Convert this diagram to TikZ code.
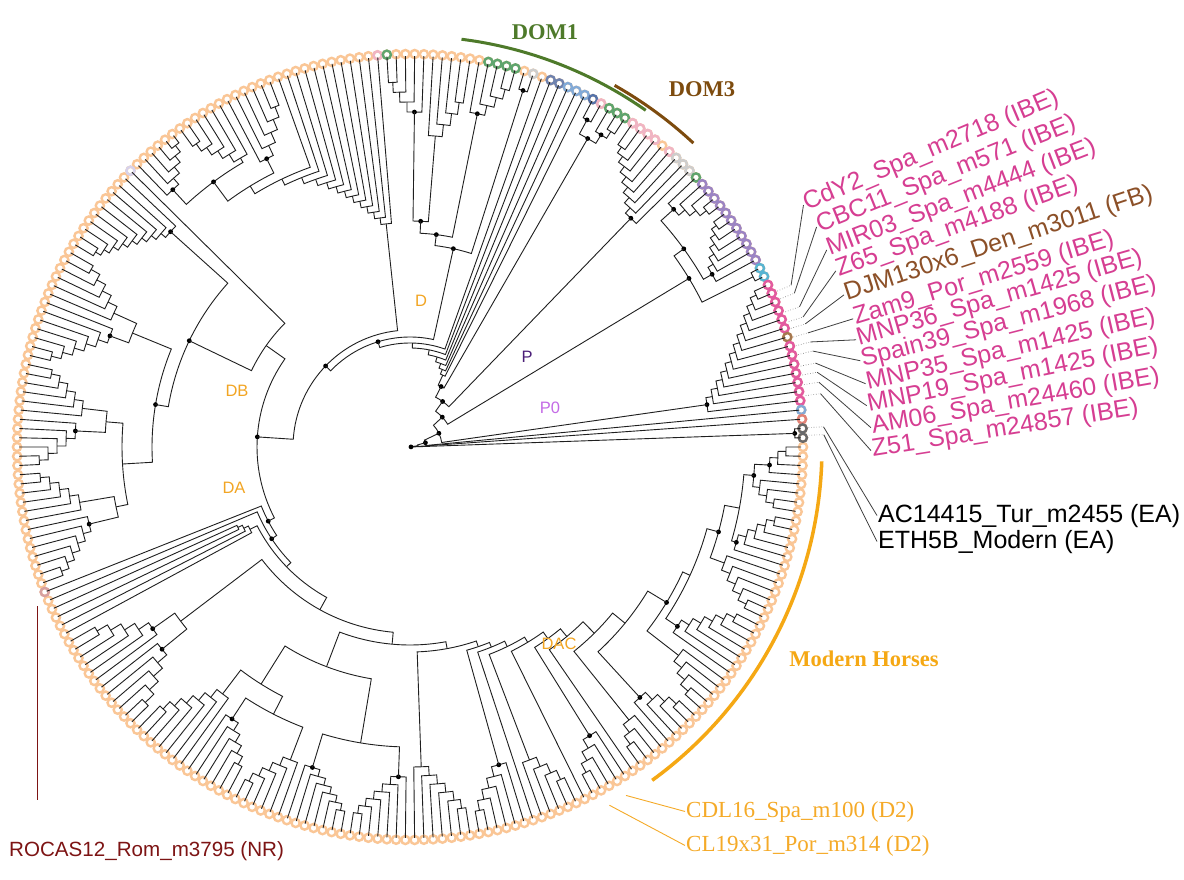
\documentclass[tikz,border=0pt]{standalone}
\usepackage{fontspec}
\newfontfamily\lsans{Liberation Sans}
\newfontfamily\lserif{Liberation Serif}
\definecolor{tor}{RGB}{250,198,150}
\definecolor{tgreen}{RGB}{95,165,110}
\definecolor{tpurple}{RGB}{155,132,196}
\definecolor{tpink}{RGB}{226,90,160}
\definecolor{tlpink}{RGB}{240,180,196}
\definecolor{tcyan}{RGB}{88,180,210}
\definecolor{tsteel}{RGB}{110,130,175}
\definecolor{tlblue}{RGB}{130,170,215}
\definecolor{tblue}{RGB}{85,115,170}
\definecolor{tred}{RGB}{225,130,120}
\definecolor{tdgrey}{RGB}{105,105,105}
\definecolor{tlgrey}{RGB}{205,205,205}
\definecolor{trosy}{RGB}{215,160,160}
\definecolor{tbrown}{RGB}{165,120,80}
\definecolor{tlav}{RGB}{215,210,235}
\definecolor{ibe}{RGB}{214,62,146}
\definecolor{fb}{RGB}{140,80,40}
\definecolor{nr}{RGB}{125,20,20}
\definecolor{dtwo}{RGB}{245,170,40}
\definecolor{domone}{RGB}{78,122,42}
\definecolor{domthree}{RGB}{125,75,14}
\definecolor{modern}{RGB}{245,168,20}
\definecolor{clab}{RGB}{242,165,35}
\definecolor{plab}{RGB}{75,30,120}
\definecolor{pzlab}{RGB}{196,107,230}
\def\dphi{1.3534}
\def\RT{391}
\newcount\ck
\newcommand\leaf[2]{\pgfmathsetmacro\tmpang{#2*\dphi}%
  \expandafter\xdef\csname A@#1\endcsname{\tmpang}%
  \expandafter\xdef\csname R@#1\endcsname{\RT}}
\newcommand\jn[4]{%
  \edef\tAa{\csname A@#2\endcsname}%
  \edef\tAb{\csname A@#3\endcsname}%
  \edef\tRa{\csname R@#2\endcsname}%
  \edef\tRb{\csname R@#3\endcsname}%
  \draw[br] (\tAa:\tRa) -- (\tAa:#4) arc[start angle=\tAa, end angle=\tAb, radius=#4] -- (\tAb:\tRb);%
  \pgfmathsetmacro\tmpang{(\tAa+\tAb)/2}%
  \expandafter\xdef\csname A@#1\endcsname{\tmpang}%
  \expandafter\xdef\csname R@#1\endcsname{#4}}
\newcommand\dotat[1]{\fill[dotc] (\csname A@#1\endcsname:\csname R@#1\endcsname) circle[radius=2.4pt];}
% caterpillar, innermost node holds the lowest index leaf
\newcommand\cat[5]{%
  \pgfmathtruncatemacro\cA{#2+#3-1}%
  \pgfmathtruncatemacro\cB{#2+#3-2}%
  \leaf{#1@x}{\cA}\leaf{#1@y}{\cB}%
  \pgfmathsetmacro\catR{#4+(#3-2)*#5}%
  \jn{#1}{#1@y}{#1@x}{\catR}%
  \ck=\cB\relax
  \loop\ifnum\ck>#2\relax
    \advance\ck by -1\relax
    \leaf{#1@x}{\the\ck}%
    \pgfmathsetmacro\catR{#4+(\the\ck-#2)*#5}%
    \jn{#1}{#1@x}{#1}{\catR}%
  \repeat}
% caterpillar, innermost node holds the highest index leaf
\newcommand\catr[5]{%
  \pgfmathtruncatemacro\cA{#2}%
  \pgfmathtruncatemacro\cB{#2+1}%
  \pgfmathtruncatemacro\cE{#2+#3-1}%
  \leaf{#1@x}{\cA}\leaf{#1@y}{\cB}%
  \pgfmathsetmacro\catR{#4+(#3-2)*#5}%
  \jn{#1}{#1@x}{#1@y}{\catR}%
  \ck=\cB\relax
  \loop\ifnum\ck<\cE\relax
    \advance\ck by 1\relax
    \leaf{#1@x}{\the\ck}%
    \pgfmathsetmacro\catR{#4+(\cE-\the\ck)*#5}%
    \jn{#1}{#1}{#1@x}{\catR}%
  \repeat}
% add leaves i1..i2 to clade, radius decreasing
\newcommand\chainup[5]{%
  \ck=#2\relax\advance\ck by -1\relax
  \loop\ifnum\ck<#3\relax
    \advance\ck by 1\relax
    \leaf{#1@x}{\the\ck}%
    \pgfmathsetmacro\catR{#4-(\the\ck-#2)*#5}%
    \jn{#1}{#1}{#1@x}{\catR}%
  \repeat}
\begin{document}
\begin{tikzpicture}[x=1pt,y=-1pt,
  br/.style={draw=black!88, line width=0.9pt},
  dotc/.style={fill=black},
  ring/.style={draw=tor, line width=2.4pt},
  lead/.style={draw=black!75, line width=0.8pt},
  tipdot/.style={draw=black!55, line width=0.6pt, dotted},
  ibelab/.style={inner sep=1pt, text=ibe, font=\lsans\fontsize{25}{27}\selectfont},
  ealab/.style={inner sep=1pt, text=black, font=\lsans\fontsize{25}{27}\selectfont},
  dlab/.style={inner sep=1pt, text=dtwo, font=\lserif\fontsize{23}{25}\selectfont},
  small/.style={inner sep=0pt, font=\lsans\fontsize{16.5}{18}\selectfont},
  big/.style={inner sep=0pt, font=\lserif\bfseries\fontsize{22.5}{24}\selectfont}]
\useasboundingbox (0,0) rectangle (1184,880);
\fill[white] (0,0) rectangle (1184,880);
\begin{scope}[shift={(410,447)}]
% tip rings
\foreach \i in {0,...,265}{\pgfmathsetmacro\ta{\i*\dphi}\draw[ring] (\ta:393) circle[radius=4.1];}
\foreach \i/\c in {117/trosy,166/tlav,196/tlpink,197/tgreen,208/tgreen,209/tgreen,210/tgreen,211/tgreen,
  213/tlgrey,215/tsteel,216/tsteel,217/tlblue,218/tlblue,219/tlblue,220/tblue,221/tlpink,222/tgreen,223/tgreen,224/tgreen,
  225/tlpink,226/tlpink,227/tlpink,228/tlpink,230/tlpink,231/tlgrey,232/tlgrey,233/tlgrey,234/tgreen,
  235/tpurple,236/tpurple,237/tpurple,238/tpurple,239/tpurple,240/tpurple,241/tpurple,242/tpurple,243/tpurple,244/tpurple,245/tpurple,
  246/tcyan,247/tcyan,248/tpink,249/tpink,250/tpink,251/tpink,252/tpink,253/tpink,254/tbrown,255/tpink,256/tpink,257/tpink,
  258/tpink,259/tpink,260/tpink,261/tpink,262/tlblue,263/tred,264/tdgrey,265/tdgrey}
  {\pgfmathsetmacro\ta{\i*\dphi}\draw[ring,draw=\c] (\ta:393) circle[radius=4.1];}
% ---- DAC ----
\catr{a1}{0}{4}{360}{8}\dotat{a1}
\cat{a2}{4}{4}{352}{8}
\jn{a12}{a1}{a2}{345}\dotat{a12}
\catr{a3}{8}{6}{340}{8}\dotat{a3}
\jn{a13}{a12}{a3}{335}
\cat{a4}{14}{6}{335}{9}
\jn{a14}{a13}{a4}{320}\dotat{a14}
\catr{a5}{20}{7}{322}{9}\dotat{a5}
\jn{a15}{a14}{a5}{308}
\cat{a6}{27}{5}{340}{10}
\jn{a16}{a15}{a6}{300}\dotat{a16}
\catr{a7}{32}{5}{340}{10}\dotat{a7}
\jn{a17}{a16}{a7}{278}
\cat{a8}{37}{4}{350}{10}
\jn{a18}{a17}{a8}{262}
\leaf{l41}{41}\jn{a19}{a18}{l41}{246}
\cat{a9}{42}{5}{340}{10}\dotat{a9}
\jn{a20}{a19}{a9}{236}
\leaf{l47}{47}\jn{a21}{a20}{l47}{228}
\catr{a10}{48}{5}{335}{10}
\jn{a22}{a21}{a10}{222}
\leaf{l53}{53}\jn{a23}{a22}{l53}{216}
\cat{a11}{54}{6}{330}{10}\dotat{a11}
\jn{a24}{a23}{a11}{211}
\catr{a25}{60}{7}{320}{9}
\jn{dac}{a24}{a25}{205}
% ---- bottom left ----
\cat{b1}{67}{7}{330}{8}\dotat{b1}
\catr{b2}{74}{7}{335}{7}\dotat{b2}
\jn{b12}{b1}{b2}{300}
\cat{b3}{81}{6}{335}{9}
\catr{b4}{87}{6}{325}{9}\dotat{b4}
\jn{b34}{b3}{b4}{300}
\cat{b5}{93}{7}{310}{10}
\jn{b35}{b34}{b5}{280}
\jn{bcl}{b12}{b35}{235}
\jn{da2}{bcl}{dac}{198}
% ---- DA ----
\catr{c1}{100}{6}{320}{12}\dotat{c1}
\cat{c2}{106}{6}{315}{12}\dotat{c2}
\jn{c12}{c1}{c2}{288}
\jn{t1}{da2}{c12}{186}
\cat{c3}{112}{4}{180}{5}
\jn{t2}{t1}{c3}{172}
\leaf{l116}{116}\jn{t3}{t2}{l116}{166}\dotat{t3}
\leaf{l117}{117}\jn{da}{t3}{l117}{160}\dotat{da}
% ---- DB ----
\catr{e1}{118}{7}{330}{8}\dotat{e1}
\cat{e2}{125}{6}{335}{9}
\jn{e12}{e1}{e2}{300}
\catr{e3}{131}{6}{335}{9}\dotat{e3}
\cat{e4}{137}{6}{330}{9}
\jn{e34}{e3}{e4}{305}
\jn{e14}{e12}{e34}{288}
\catr{e5}{143}{7}{320}{10}\dotat{e5}
\cat{e6}{150}{6}{325}{10}
\jn{e56}{e5}{e6}{300}
\jn{ea}{e14}{e56}{258}\dotat{ea}
\catr{e7}{156}{10}{322}{6}\dotat{e7}
\jn{e7b}{ea}{e7}{245}\dotat{e7b}
\leaf{l166}{166}\jn{db}{e7b}{l166}{176}
\jn{q}{db}{da}{153}\dotat{q}
% ---- top left ----
\cat{t1a}{167}{6}{350}{8}\dotat{t1a}
\catr{t2a}{173}{6}{335}{9}
\jn{u1}{t1a}{t2a}{330}\dotat{u1}
\cat{t3a}{179}{6}{322}{11}\dotat{t3a}
\jn{u2}{u1}{t3a}{306}
\chainup{u2}{185}{196}{297}{6.6}
\jn{d0}{q}{u2}{117}\dotat{d0}
% ---- D top ----
\catr{g1}{197}{5}{335}{10}\dotat{g1}
\cat{g2}{202}{5}{312}{12}
\jn{g12}{g1}{g2}{226}\dotat{g12}
\cat{g3}{207}{5}{340}{10}\dotat{g3}
\jn{g13}{g12}{g3}{214}\dotat{g13}
\cat{g4}{212}{2}{374}{0}\dotat{g4}
\jn{dtop}{g13}{g4}{203}\dotat{dtop}
% ---- backbone ----
\jn{bb}{d0}{dtop}{110}\dotat{bb}
\chainup{bb}{214}{219}{104}{5}
\cat{h1}{220}{2}{372}{0}\dotat{h1}
\cat{h2}{222}{3}{366}{8}\dotat{h2}
\jn{dom1}{h1}{h2}{356}\dotat{dom1}
\jn{bb}{bb}{dom1}{68}\dotat{bb}
\catr{dom3}{225}{9}{318}{7}\dotat{dom3}
\jn{bb}{bb}{dom3}{56}\dotat{bb}
\cat{p1}{234}{5}{355}{8}\dotat{p1}
\catr{p2}{239}{7}{348}{6}\dotat{p2}
\jn{p12}{p1}{p2}{338}\dotat{p12}
\cat{p3}{246}{2}{383}{0}
\jn{pc}{p12}{p3}{326}\dotat{pc}
\jn{bb}{bb}{pc}{44}\dotat{bb}
\catr{pink}{248}{14}{300}{6.5}\dotat{pink}
\jn{bb}{bb}{pink}{32}\dotat{bb}
\leaf{l262}{262}\jn{bb}{bb}{l262}{16}\dotat{bb}
\leaf{l263}{263}\jn{bb}{bb}{l263}{8}
\cat{eacl}{264}{2}{385}{0}\dotat{eacl}
\jn{root}{bb}{eacl}{1}\dotat{root}
% ---- clade arcs ----
\draw[domone, line width=3pt] (277.2:411) arc[start angle=277.2, end angle=305, radius=411];
\draw[domthree, line width=3pt] (299.5:415.5) arc[start angle=299.5, end angle=313, radius=415.5];
\draw[modern, line width=3.5pt] (2:412) arc[start angle=2, end angle=54, radius=412];
% ---- elbows of the leaders ----
\foreach \k/\a in {1/337.0,2/338.2,3/340.2,4/341.7,5/342.7,6/344.0,7/345.3,8/346.6,9/348.3,10/349.6,11/351.0,12/352.6,13/357.2,14/358.3}
  {\coordinate (e\k) at (\a:414); \coordinate (s\k) at (\a:399);}
\coordinate (dA) at (58.2:410);
\coordinate (dB) at (60.9:410);
\end{scope}
% ---- labels ----
\node[ibelab, rotate=23, anchor=base west] (L1) at (806,211) {CdY2\_Spa\_m2718 (IBE)};
\node[ibelab, rotate=22, anchor=base west] (L2) at (819,233) {CBC11\_Spa\_m571 (IBE)};
\node[ibelab, rotate=21, anchor=base west] (L3) at (829,256) {MIR03\_Spa\_m4444 (IBE)};
\node[ibelab, rotate=19.8, anchor=base west] (L4) at (838,277) {Z65\_Spa\_m4188 (IBE)};
\node[ibelab, text=fb, rotate=18.2, anchor=base west] (L5) at (846,301) {DJM130x6\_Den\_m3011 (FB)};
\node[ibelab, rotate=17, anchor=base west] (L6) at (855,325) {Zam9\_Por\_m2559 (IBE)};
\node[ibelab, rotate=16, anchor=base west] (L7) at (858,346) {MNP36\_Spa\_m1425 (IBE)};
\node[ibelab, rotate=14.5, anchor=base west] (L8) at (862,367) {Spain39\_Spa\_m1968 (IBE)};
\node[ibelab, rotate=13, anchor=base west] (L9) at (867,390) {MNP35\_Spa\_m1425 (IBE)};
\node[ibelab, rotate=11.5, anchor=base west] (L10) at (868,412) {MNP19\_Spa\_m1425 (IBE)};
\node[ibelab, rotate=10, anchor=base west] (L11) at (872,434) {AM06\_Spa\_m24460 (IBE)};
\node[ibelab, rotate=9, anchor=base west] (L12) at (872,457) {Z51\_Spa\_m24857 (IBE)};
\node[ealab, anchor=base west] (L13) at (877,522) {AC14415\_Tur\_m2455 (EA)};
\node[ealab, anchor=base west] (L14) at (877,548) {ETH5B\_Modern (EA)};
\node[inner sep=1pt, text=nr, font=\lsans\fontsize{20.6}{22}\selectfont, anchor=base west] (L15) at (8,856) {ROCAS12\_Rom\_m3795 (NR)};
\node[dlab, anchor=base west] (L16) at (685,817) {CDL16\_Spa\_m100 (D2)};
\node[dlab, anchor=base west] (L17) at (685,851) {CL19x31\_Por\_m314 (D2)};
\node[big, text=domone] (Ldom1) at (545,32) {DOM1};
\node[big, text=domthree] (Ldom3) at (702,89) {DOM3};
\node[big, text=modern] (Lmod) at (864,659) {Modern Horses};
\node[small, text=clab] (LD) at (421,301) {D};
\node[small, text=clab] (LDB) at (237,391) {DB};
\node[small, text=clab] (LDA) at (234,488) {DA};
\node[small, text=clab] (LDAC) at (559,644) {DAC};
\node[small, text=plab] (LP) at (527,357) {P};
\node[small, text=pzlab] (LP0) at (550,408) {P0};
% ---- leaders ----
\foreach \k in {1,...,14}{\draw[tipdot] (s\k) -- (e\k); \draw[lead] (e\k) -- (L\k.west);}
\coordinate (rocA) at (37,606);
\coordinate (rocB) at (37,800);
\draw[nr, line width=0.9pt] (rocA) -- (rocB);
\draw[dtwo, line width=0.9pt] (dA) -- (L16.west);
\draw[dtwo, line width=0.9pt] (dB) -- (L17.west);
\end{tikzpicture}
\end{document}
